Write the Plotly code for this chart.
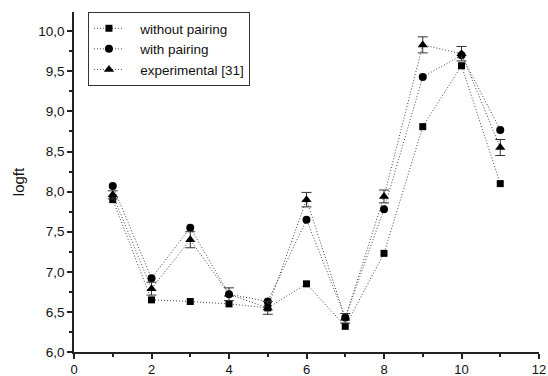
import plotly.graph_objects as go

x = [1, 2, 3, 4, 5, 6, 7, 8, 9, 10, 11]
without_pairing = [7.90, 6.65, 6.63, 6.60, 6.55, 6.85, 6.32, 7.23, 8.81, 9.57, 8.10]
with_pairing = [8.07, 6.92, 7.55, 6.72, 6.63, 7.65, 6.43, 7.78, 9.43, 9.70, 8.77]
experimental = [7.96, 6.79, 7.40, 6.72, 6.55, 7.90, 6.42, 7.94, 9.83, 9.72, 8.55]
exp_err = [0.05, 0.08, 0.10, 0.08, 0.08, 0.09, 0.06, 0.08, 0.10, 0.09, 0.10]

y_ticks = [6.0, 6.5, 7.0, 7.5, 8.0, 8.5, 9.0, 9.5, 10.0]
y_labels = ["6,0", "6,5", "7,0", "7,5", "8,0", "8,5", "9,0", "9,5", "10,0"]
x_ticks = [0, 2, 4, 6, 8, 10, 12]
pad = "\u00a0\u00a0\u00a0"

line_style = dict(color="#444444", width=1, dash="1px,2px")
font = "Liberation Sans, Arial, sans-serif"

fig = go.Figure()
fig.add_trace(go.Scatter(x=x, y=without_pairing, mode="lines+markers", name=pad + "without pairing",
                         line=line_style, marker=dict(symbol="square", size=7, color="black")))
fig.add_trace(go.Scatter(x=x, y=with_pairing, mode="lines+markers", name=pad + "with pairing",
                         line=line_style, marker=dict(symbol="circle", size=8, color="black")))
fig.add_trace(go.Scatter(x=x, y=experimental, mode="lines+markers", name=pad + "experimental [31]",
                         line=line_style, marker=dict(symbol="triangle-up", size=9, color="black"),
                         error_y=dict(type="data", array=exp_err, visible=True, color="#333333",
                                      thickness=1, width=5)))

fig.update_layout(
    width=548, height=376,
    margin=dict(l=74, r=9, t=12, b=24, autoexpand=False),
    plot_bgcolor="white", paper_bgcolor="white",
    font=dict(family=font, size=13, color="#111111"),
    showlegend=True,
    legend=dict(x=0.03, y=1.0, xanchor="left", yanchor="top",
                bordercolor="#333333", borderwidth=1, bgcolor="white",
                font=dict(size=13.5), tracegroupgap=0),
    xaxis=dict(range=[0, 12], tickvals=x_ticks, ticks="outside", ticklen=5, tickwidth=1.5,
               tickcolor="#222222", automargin=False,
               showline=True, linecolor="#222222", linewidth=1.5, showgrid=False, zeroline=False,
               minor=dict(tickvals=[1, 3, 5, 7, 9, 11], ticks="outside", ticklen=3,
                          tickcolor="#222222", tickwidth=1.5),
               tickfont=dict(size=13)),
    yaxis=dict(range=[6, 10.24], tickvals=y_ticks, ticktext=y_labels, ticks="outside", ticklen=5,
               tickwidth=1.5, tickcolor="#222222", automargin=False,
               showline=True, linecolor="#222222", linewidth=1.5, showgrid=False, zeroline=False,
               minor=dict(tickvals=[6.25, 6.75, 7.25, 7.75, 8.25, 8.75, 9.25, 9.75, 10.25],
                          ticks="outside", ticklen=3, tickcolor="#222222", tickwidth=1.5),
               title=dict(text="logft", font=dict(size=15), standoff=10),
               tickfont=dict(size=13.5)),
)

fig.write_html("out.html", post_script="document.body.style.margin='0';",
               config=dict(displayModeBar=False))
